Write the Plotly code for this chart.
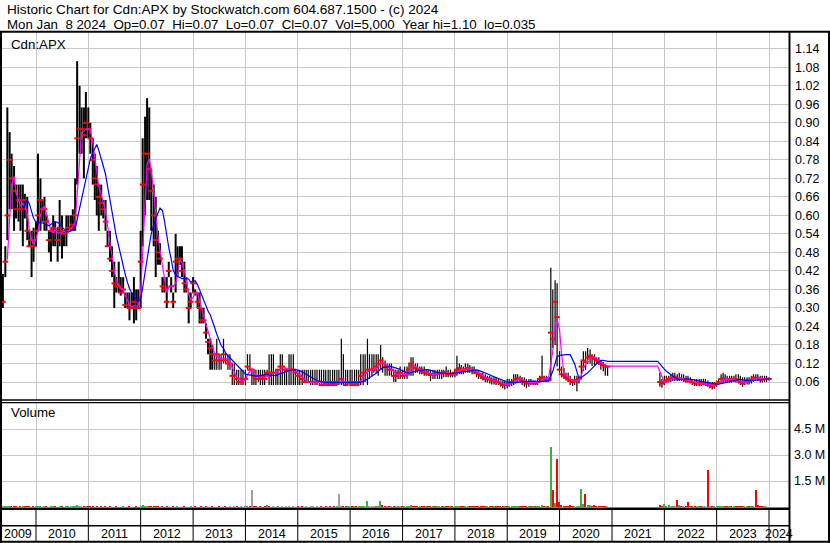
import pandas as pd
import plotly.graph_objects as go

# ---------------- data (semi-monthly periods) ----------------
dates = pd.date_range("2009-05-15", "2024-01-01", freq="SMS")

high = [
    0.41, 0.50, 0.95, 0.87, 0.80, 0.76, 0.70, 0.70, 0.70, 0.70, 0.67, 0.66, 0.55, 0.55, 0.56,  # 2009
    0.58, 0.80, 0.72, 0.65, 0.66, 0.60, 0.55, 0.56, 0.60, 0.58, 0.56, 0.65, 0.60, 0.55, 0.60, 0.60, 0.60, 0.62, 0.72, 1.10, 1.02, 0.95, 0.95, 1.00,  # 2010
    0.95, 0.90, 0.85, 0.80, 0.76, 0.70, 0.70, 0.65, 0.65, 0.55, 0.55, 0.50, 0.45, 0.40, 0.45, 0.40, 0.40, 0.35, 0.35, 0.35, 0.35, 0.40, 0.36, 0.36,  # 2011
    0.55, 0.85, 0.92, 0.98, 0.95, 0.75, 0.70, 0.66, 0.55, 0.51, 0.40, 0.40, 0.40, 0.45, 0.40, 0.35, 0.54, 0.50, 0.50, 0.50, 0.45, 0.40, 0.35, 0.35,  # 2012
    0.40, 0.36, 0.35, 0.35, 0.30, 0.30, 0.25, 0.20, 0.20, 0.18, 0.15, 0.20, 0.15, 0.15, 0.20, 0.15, 0.15, 0.15, 0.12, 0.12, 0.10, 0.10, 0.10, 0.10,  # 2013
    0.10, 0.15, 0.15, 0.10, 0.10, 0.10, 0.10, 0.10, 0.10, 0.10, 0.10, 0.15, 0.15, 0.15, 0.10, 0.10, 0.15, 0.15, 0.10, 0.10, 0.15, 0.15, 0.15, 0.10,  # 2014
    0.10, 0.10, 0.10, 0.10, 0.10, 0.10, 0.10, 0.10, 0.10, 0.10, 0.10, 0.10, 0.10, 0.10, 0.10, 0.10, 0.10, 0.10, 0.10, 0.10, 0.20, 0.15, 0.10, 0.10,  # 2015
    0.10, 0.10, 0.10, 0.10, 0.10, 0.15, 0.15, 0.15, 0.20, 0.15, 0.15, 0.15, 0.15, 0.15, 0.18, 0.14, 0.13, 0.12, 0.12, 0.12, 0.10, 0.10, 0.10, 0.11,  # 2016
    0.10, 0.11, 0.11, 0.12, 0.14, 0.14, 0.12, 0.12, 0.11, 0.11, 0.11, 0.10, 0.10, 0.10, 0.10, 0.10, 0.10, 0.10, 0.10, 0.10, 0.11, 0.10, 0.10, 0.09,  # 2017
    0.10, 0.145, 0.12, 0.115, 0.11, 0.12, 0.12, 0.115, 0.11, 0.11, 0.10, 0.095, 0.09, 0.09, 0.085, 0.08, 0.08, 0.075, 0.075, 0.075, 0.07, 0.065, 0.065, 0.065,  # 2018
    0.07, 0.07, 0.07, 0.085, 0.085, 0.085, 0.08, 0.075, 0.075, 0.07, 0.07, 0.07, 0.065, 0.065, 0.07, 0.08, 0.145, 0.08, 0.08, 0.078, 0.43, 0.36, 0.39, 0.38,  # 2019
    0.16, 0.11, 0.105, 0.09, 0.09, 0.08, 0.07, 0.08, 0.08, 0.08, 0.13, 0.16, 0.16, 0.17, 0.165, 0.15, 0.15, 0.14, 0.14, 0.13, 0.125, 0.118, 0.11, None,  # 2020
    *([None] * 22), 0.09, 0.07,  # 2021 (halted most of the year)
    0.08, 0.08, 0.08, 0.085, 0.09, 0.09, 0.085, 0.09, 0.085, 0.085, 0.08, 0.08, 0.075, 0.07, 0.07, 0.07, 0.07, 0.07, 0.07, 0.07, 0.065, 0.06, 0.06, 0.06,  # 2022
    0.065, 0.07, 0.085, 0.09, 0.085, 0.08, 0.08, 0.08, 0.08, 0.085, 0.085, 0.08, 0.075, 0.075, 0.075, 0.075, 0.08, 0.085, 0.085, 0.085, 0.08, 0.08, 0.08, 0.08,  # 2023
    0.075,  # 2024
]

low = [
    0.30, 0.40, 0.52, 0.62, 0.62, 0.55, 0.59, 0.58, 0.55, 0.50, 0.59, 0.52, 0.50, 0.40, 0.45,  # 2009
    0.50, 0.55, 0.55, 0.58, 0.55, 0.55, 0.48, 0.45, 0.50, 0.50, 0.45, 0.50, 0.46, 0.50, 0.50, 0.55, 0.55, 0.55, 0.55, 0.70, 0.80, 0.80, 0.72, 0.85,  # 2010
    0.85, 0.80, 0.70, 0.65, 0.60, 0.55, 0.60, 0.59, 0.55, 0.50, 0.45, 0.40, 0.30, 0.35, 0.35, 0.34, 0.35, 0.30, 0.30, 0.26, 0.30, 0.25, 0.26, 0.30,  # 2011
    0.30, 0.50, 0.60, 0.65, 0.65, 0.55, 0.50, 0.40, 0.44, 0.44, 0.35, 0.35, 0.30, 0.40, 0.35, 0.30, 0.35, 0.40, 0.44, 0.40, 0.35, 0.35, 0.25, 0.30,  # 2012
    0.35, 0.34, 0.30, 0.25, 0.25, 0.25, 0.20, 0.15, 0.10, 0.10, 0.10, 0.10, 0.10, 0.10, 0.12, 0.12, 0.10, 0.10, 0.05, 0.05, 0.05, 0.05, 0.05, 0.05,  # 2013
    0.05, 0.10, 0.10, 0.05, 0.05, 0.05, 0.06, 0.05, 0.05, 0.05, 0.08, 0.05, 0.05, 0.05, 0.05, 0.05, 0.05, 0.05, 0.05, 0.05, 0.05, 0.05, 0.05, 0.05,  # 2014
    0.05, 0.05, 0.05, 0.06, 0.06, 0.06, 0.05, 0.05, 0.05, 0.05, 0.05, 0.05, 0.05, 0.05, 0.05, 0.05, 0.05, 0.05, 0.05, 0.05, 0.05, 0.05, 0.05, 0.05,  # 2015
    0.05, 0.05, 0.05, 0.05, 0.05, 0.05, 0.05, 0.06, 0.05, 0.07, 0.08, 0.09, 0.09, 0.08, 0.10, 0.09, 0.08, 0.08, 0.08, 0.08, 0.06, 0.06, 0.07, 0.07,  # 2016
    0.07, 0.07, 0.07, 0.08, 0.08, 0.08, 0.09, 0.09, 0.085, 0.085, 0.08, 0.08, 0.08, 0.063, 0.07, 0.07, 0.07, 0.07, 0.07, 0.075, 0.075, 0.075, 0.075, 0.075,  # 2017
    0.075, 0.08, 0.085, 0.085, 0.085, 0.09, 0.09, 0.09, 0.085, 0.085, 0.075, 0.07, 0.07, 0.065, 0.06, 0.058, 0.055, 0.052, 0.052, 0.05, 0.05, 0.045, 0.04, 0.036,  # 2018
    0.04, 0.045, 0.047, 0.05, 0.055, 0.058, 0.058, 0.05, 0.045, 0.04, 0.045, 0.05, 0.05, 0.05, 0.05, 0.06, 0.063, 0.063, 0.06, 0.06, 0.065, 0.17, 0.18, 0.11,  # 2019
    0.09, 0.075, 0.07, 0.065, 0.06, 0.05, 0.047, 0.05, 0.03, 0.055, 0.07, 0.096, 0.10, 0.118, 0.12, 0.112, 0.115, 0.118, 0.115, 0.10, 0.095, 0.08, 0.08, None,  # 2020
    *([None] * 22), 0.045, 0.041,  # 2021
    0.05, 0.058, 0.058, 0.06, 0.063, 0.063, 0.063, 0.063, 0.063, 0.06, 0.058, 0.058, 0.055, 0.05, 0.047, 0.047, 0.047, 0.047, 0.05, 0.048, 0.045, 0.04, 0.036, 0.038,  # 2022
    0.045, 0.052, 0.058, 0.058, 0.06, 0.058, 0.058, 0.058, 0.06, 0.058, 0.055, 0.05, 0.045, 0.05, 0.052, 0.052, 0.055, 0.06, 0.063, 0.063, 0.058, 0.058, 0.06, 0.06,  # 2023
    0.065,  # 2024
]

close = [
    0.32, 0.45, 0.60, 0.78, 0.72, 0.68, 0.62, 0.65, 0.62, 0.65, 0.62, 0.55, 0.50, 0.52, 0.50,  # 2009
    0.55, 0.60, 0.65, 0.62, 0.62, 0.58, 0.52, 0.55, 0.56, 0.55, 0.52, 0.56, 0.55, 0.54, 0.55, 0.56, 0.56, 0.57, 0.60, 0.85, 0.88, 0.88, 0.86, 0.90,  # 2010
    0.88, 0.85, 0.78, 0.72, 0.70, 0.66, 0.64, 0.62, 0.58, 0.50, 0.46, 0.42, 0.38, 0.37, 0.37, 0.35, 0.36, 0.31, 0.31, 0.30, 0.30, 0.32, 0.30, 0.30,  # 2011
    0.45, 0.70, 0.80, 0.80, 0.75, 0.68, 0.60, 0.52, 0.48, 0.46, 0.37, 0.36, 0.32, 0.42, 0.37, 0.32, 0.45, 0.46, 0.46, 0.42, 0.38, 0.36, 0.30, 0.32,  # 2012
    0.38, 0.35, 0.32, 0.30, 0.26, 0.26, 0.22, 0.19, 0.17, 0.15, 0.13, 0.15, 0.13, 0.13, 0.15, 0.13, 0.12, 0.12, 0.08, 0.08, 0.07, 0.06, 0.06, 0.07,  # 2013
    0.07, 0.11, 0.10, 0.10, 0.08, 0.07, 0.08, 0.07, 0.08, 0.07, 0.09, 0.08, 0.09, 0.09, 0.09, 0.10, 0.11, 0.11, 0.10, 0.10, 0.10, 0.10, 0.10, 0.09,  # 2014
    0.08, 0.08, 0.07, 0.06, 0.06, 0.06, 0.06, 0.06, 0.06, 0.06, 0.06, 0.05, 0.06, 0.05, 0.06, 0.05, 0.06, 0.05, 0.06, 0.06, 0.07, 0.06, 0.05, 0.06,  # 2015
    0.06, 0.05, 0.06, 0.05, 0.06, 0.08, 0.09, 0.09, 0.10, 0.10, 0.10, 0.10, 0.11, 0.12, 0.13, 0.12, 0.11, 0.11, 0.10, 0.10, 0.08, 0.08, 0.09, 0.09,  # 2016
    0.08, 0.082, 0.09, 0.10, 0.12, 0.11, 0.105, 0.10, 0.102, 0.095, 0.09, 0.092, 0.085, 0.083, 0.086, 0.084, 0.087, 0.09, 0.088, 0.092, 0.09, 0.085, 0.087, 0.084,  # 2017
    0.09, 0.10, 0.105, 0.10, 0.098, 0.102, 0.105, 0.10, 0.098, 0.095, 0.09, 0.085, 0.08, 0.075, 0.07, 0.072, 0.068, 0.065, 0.066, 0.063, 0.06, 0.055, 0.05, 0.052,  # 2018
    0.05, 0.055, 0.06, 0.062, 0.07, 0.072, 0.07, 0.065, 0.06, 0.055, 0.06, 0.058, 0.06, 0.055, 0.06, 0.07, 0.075, 0.07, 0.072, 0.065, 0.22, 0.20, 0.32, 0.27,  # 2019
    0.10, 0.085, 0.08, 0.075, 0.07, 0.065, 0.06, 0.065, 0.065, 0.07, 0.11, 0.13, 0.125, 0.14, 0.145, 0.14, 0.135, 0.13, 0.125, 0.12, 0.115, 0.11, 0.11, None,  # 2020
    *([None] * 22), 0.06, 0.055,  # 2021
    0.06, 0.065, 0.07, 0.07, 0.075, 0.075, 0.07, 0.072, 0.07, 0.07, 0.065, 0.062, 0.065, 0.06, 0.055, 0.055, 0.057, 0.055, 0.055, 0.055, 0.05, 0.05, 0.045, 0.05,  # 2022
    0.055, 0.06, 0.07, 0.072, 0.07, 0.068, 0.07, 0.066, 0.07, 0.068, 0.065, 0.06, 0.055, 0.06, 0.065, 0.063, 0.068, 0.075, 0.073, 0.072, 0.07, 0.068, 0.07, 0.07,  # 2023
    0.07,  # 2024
]

volume_m = [
    0.03, 0.04, 0.05, 0.04, 0.03, 0.05, 0.03, 0.02, 0.04, 0.03, 0.05, 0.04, 0.03, 0.02, 0.04,  # 2009
    0.03, 0.05, 0.04, 0.02, 0.03, 0.04, 0.02, 0.03, 0.04, 0.03, 0.02, 0.03, 0.04, 0.02, 0.03, 0.03, 0.04, 0.03, 0.05, 0.12, 0.06, 0.05, 0.04, 0.10,  # 2010
    0.04, 0.03, 0.03, 0.02, 0.03, 0.02, 0.03, 0.02, 0.03, 0.02, 0.03, 0.02, 0.02, 0.03, 0.02, 0.02, 0.03, 0.02, 0.02, 0.03, 0.02, 0.02, 0.03, 0.02,  # 2011
    0.05, 0.12, 0.08, 0.06, 0.05, 0.04, 0.03, 0.04, 0.03, 0.02, 0.03, 0.02, 0.03, 0.02, 0.02, 0.03, 0.02, 0.03, 0.02, 0.02, 0.03, 0.02, 0.02, 0.03,  # 2012
    0.02, 0.03, 0.02, 0.02, 0.03, 0.02, 0.03, 0.02, 0.02, 0.03, 0.02, 0.02, 0.03, 0.02, 0.02, 0.03, 0.02, 0.03, 0.02, 0.03, 0.08, 0.02, 0.03, 0.02,  # 2013
    0.03, 0.04, 0.05, 1.03, 0.04, 0.03, 0.02, 0.03, 0.02, 0.03, 0.12, 0.03, 0.02, 0.03, 0.02, 0.03, 0.02, 0.03, 0.02, 0.03, 0.04, 0.02, 0.03, 0.02,  # 2014
    0.03, 0.02, 0.03, 0.02, 0.03, 0.02, 0.10, 0.03, 0.02, 0.03, 0.02, 0.03, 0.02, 0.03, 0.02, 0.03, 0.02, 0.03, 0.04, 0.76, 0.05, 0.03, 0.04, 0.03,  # 2015
    0.03, 0.04, 0.03, 0.05, 0.04, 0.08, 0.06, 0.05, 0.35, 0.08, 0.06, 0.07, 0.05, 0.10, 0.35, 0.15, 0.08, 0.06, 0.07, 0.05, 0.06, 0.08, 0.05, 0.06,  # 2016
    0.06, 0.05, 0.08, 0.07, 0.12, 0.08, 0.06, 0.07, 0.05, 0.06, 0.09, 0.05, 0.06, 0.07, 0.05, 0.06, 0.08, 0.06, 0.05, 0.07, 0.06, 0.05, 0.06, 0.05,  # 2017
    0.06, 0.10, 0.07, 0.06, 0.05, 0.07, 0.06, 0.05, 0.07, 0.06, 0.05, 0.06, 0.05, 0.06, 0.07, 0.05, 0.06, 0.05, 0.04, 0.05, 0.06, 0.05, 0.04, 0.05,  # 2018
    0.05, 0.04, 0.05, 0.06, 0.05, 0.04, 0.05, 0.06, 0.05, 0.04, 0.05, 0.04, 0.05, 0.04, 0.06, 0.08, 0.15, 0.06, 0.05, 0.05, 3.50, 1.00, 0.25, 2.80,  # 2019
    0.30, 0.15, 0.10, 0.08, 0.10, 0.12, 0.08, 0.10, 0.09, 0.10, 1.05, 0.20, 0.80, 0.15, 0.12, 0.10, 0.12, 0.08, 0.10, 0.08, 0.07, 0.06, 0.05, None,  # 2020
    *([None] * 22), 0.15, 0.08,  # 2021
    0.20, 0.10, 0.12, 0.08, 0.10, 0.09, 0.45, 0.12, 0.10, 0.08, 0.09, 0.30, 0.08, 0.07, 0.06, 0.08, 0.07, 0.06, 0.05, 0.06, 2.16, 0.08, 0.06, 0.07,  # 2022
    0.06, 0.07, 0.10, 0.08, 0.06, 0.07, 0.05, 0.06, 0.07, 0.05, 0.06, 0.08, 0.05, 0.06, 0.07, 0.06, 0.05, 0.08, 1.00, 0.12, 0.08, 0.06, 0.07, 0.05,  # 2023
    0.01,  # 2024
]

price_ticks = [0.06, 0.12, 0.18, 0.24, 0.30, 0.36, 0.42, 0.48, 0.54, 0.60, 0.66, 0.72,
               0.78, 0.84, 0.90, 0.96, 1.02, 1.08, 1.14]
volume_ticks = [1.5e6, 3.0e6, 4.5e6]
volume_tick_text = ["1.5 M", "3.0 M", "4.5 M"]
year_labels = list(range(2009, 2025))

header1 = "Historic Chart for Cdn:APX by Stockwatch.com 604.687.1500 - (c) 2024"
header2 = "Mon Jan  8 2024  Op=0.07  Hi=0.07  Lo=0.07  Cl=0.07  Vol=5,000  Year hi=1.10  lo=0.035"

# ---------------- derived series ----------------
df = pd.DataFrame({"date": dates, "hi": high, "lo": low, "cl": close, "vol": volume_m})
tr = df.dropna(subset=["cl"]).reset_index(drop=True)
tr["ma_fast"] = tr["cl"].rolling(3).mean()
tr["ma_slow"] = tr["cl"].rolling(10).mean()
chg = tr["cl"].diff().fillna(0)
vol_colors = ["#3cb043" if c > 1e-9 else ("#ff0000" if c < -1e-9 else "#a0a0a0") for c in chg]
# moving averages are held flat through the trading halt
ma = tr.set_index("date")[["ma_fast", "ma_slow"]].reindex(df["date"]).ffill()

# ---------------- geometry ----------------
W, H = 830, 543
FONT = "Liberation Sans, Arial, sans-serif"


def py(ypx):
    return (H - ypx) / H


def px(xpx):
    return xpx / W


ppd = (769 - 36) / (pd.Timestamp("2024-01-01") - pd.Timestamp("2010-01-01")).days
x_left = pd.Timestamp("2010-01-01") - pd.Timedelta(days=36 / ppd)
x_right = pd.Timestamp("2024-01-01") + pd.Timedelta(days=(789 - 769) / ppd)
plot_right = 789


def pv(ypx):  # price scale: 0.06 at y=382, 18.51 px per 0.06
    return 0.06 + (382 - ypx) / 18.51 * 0.06


vol_top = (507 - 402.5) / 26.0 * 1.5e6  # volume scale: 0 at y=507, 26 px per 1.5M

year_starts = [pd.Timestamp(f"{y}-01-01") for y in year_labels[1:]]

# ---------------- traces ----------------
fig = go.Figure()
fig.add_trace(go.Bar(
    x=tr["date"], y=tr["vol"] * 1e6, marker=dict(color=vol_colors, line=dict(width=0)),
    width=1.3 / ppd * 86400000, xaxis="x2", yaxis="y2", hoverinfo="skip"))

split = pd.Timestamp("2013-06-01")
for sel, w in ((tr["date"] < split, 2.0), (tr["date"] >= split, 1.2)):
    sub = tr[sel]
    bx, by = [], []
    for d, h, l in zip(sub["date"], sub["hi"], sub["lo"]):
        bx += [d, d, None]
        by += [l, h, None]
    fig.add_trace(go.Scatter(x=bx, y=by, mode="lines", line=dict(color="black", width=w),
                             hoverinfo="skip"))

fig.add_trace(go.Scatter(x=tr["date"], y=tr["cl"], mode="markers",
                         marker=dict(symbol="line-ew", size=4, line=dict(width=2, color="#ff0000")),
                         hoverinfo="skip"))
fig.add_trace(go.Scatter(x=ma.index, y=ma["ma_fast"], mode="lines",
                         line=dict(color="#ff00ff", width=1.2), hoverinfo="skip"))
fig.add_trace(go.Scatter(x=ma.index, y=ma["ma_slow"], mode="lines",
                         line=dict(color="#0000ff", width=1.2), hoverinfo="skip"))

grid = "#c8c8c8"
xcommon = dict(type="date", range=[x_left, x_right], domain=[0, px(plot_right)],
               tickvals=year_starts, showticklabels=False, showgrid=True, gridcolor=grid,
               gridwidth=1, zeroline=False, showline=False, ticks="")

fig.update_layout(
    width=W, height=H, margin=dict(l=0, r=0, t=0, b=0),
    paper_bgcolor="white", plot_bgcolor="white", showlegend=False, bargap=0,
    xaxis=dict(anchor="y", **xcommon),
    xaxis2=dict(anchor="y2", matches="x", **xcommon),
    yaxis=dict(domain=[py(400), py(32)], range=[pv(400), pv(32)], anchor="x",
               tickvals=price_ticks, ticktext=[f"{v:.2f}" for v in price_ticks],
               side="right", showgrid=True, gridcolor=grid, gridwidth=1, zeroline=False,
               showline=False, ticks="", ticklabelstandoff=5,
               tickfont=dict(family=FONT, size=12.5, color="black")),
    yaxis2=dict(domain=[py(507), py(402.5)], range=[0, vol_top], anchor="x2",
                tickvals=volume_ticks, ticktext=volume_tick_text,
                side="right", showgrid=True, gridcolor=grid, gridwidth=1, zeroline=False,
                showline=False, ticks="", ticklabelstandoff=4,
                tickfont=dict(family=FONT, size=12.5, color="black")),
)

# ---------------- frame lines ----------------
shapes = []


def hline(ypx, x0, x1, w):
    shapes.append(dict(type="line", xref="paper", yref="paper", x0=px(x0), x1=px(x1),
                       y0=py(ypx), y1=py(ypx), line=dict(color="black", width=w), layer="above"))


def vline(xpx, y0, y1, w):
    shapes.append(dict(type="line", xref="paper", yref="paper", x0=px(xpx), x1=px(xpx),
                       y0=py(y0), y1=py(y1), line=dict(color="black", width=w), layer="above"))


hline(31.8, 0, 830, 2)
hline(400.0, 0, plot_right, 1.5)
hline(402.6, 0, plot_right, 1.3)
hline(508.7, 0, plot_right, 2.5)
hline(525.8, 0, plot_right, 1.5)
hline(541.8, 0, 830, 2)
vline(1.0, 31, 543, 2)
vline(789.5, 31, 543, 2)
vline(829.0, 31, 543, 2)
for ys in year_starts:
    shapes.append(dict(type="line", xref="x", yref="paper", x0=ys, x1=ys,
                       y0=py(541), y1=py(509), line=dict(color="black", width=1), layer="above"))
fig.update_layout(shapes=shapes)

# ---------------- texts ----------------
ann = []


def nb(s):
    return s.replace(" ", "\u00a0")


def label(text, xpx, ypx, size=13.3):
    ann.append(dict(text=nb(text), x=px(xpx), y=py(ypx), xref="paper", yref="paper",
                    xanchor="left", yanchor="middle", showarrow=False,
                    font=dict(family=FONT, size=size, color="black")))


label(header1, 4.5, 9.7, size=13.6)
label(header2, 4.5, 24.0, size=13.3)
label("Cdn:APX", 8.5, 44.7)
label("Volume", 9.0, 412.7)
for yr in year_labels:
    s = max(pd.Timestamp(f"{yr}-01-01"), x_left)
    e = min(pd.Timestamp(f"{yr + 1}-01-01"), x_right)
    c = s + (e - s) / 2
    ann.append(dict(text=str(yr), x=c, y=py(534.4), xref="x", yref="paper",
                    xanchor="center", yanchor="middle", showarrow=False,
                    font=dict(family=FONT, size=12.5, color="black")))
fig.update_layout(annotations=ann)

fig.write_html("out.html", config={"displayModeBar": False},
               post_script="document.body.style.margin='0px';document.body.style.overflow='hidden';")
